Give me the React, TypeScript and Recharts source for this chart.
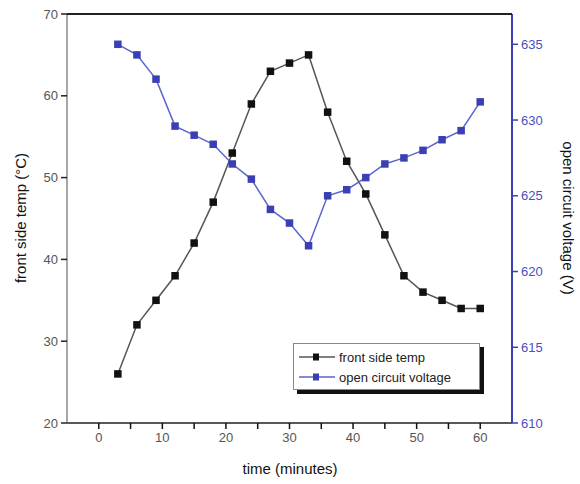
import React from "react";
import { ComposedChart, Line, XAxis, YAxis } from "recharts";

const times = [3, 6, 9, 12, 15, 18, 21, 24, 27, 30, 33, 36, 39, 42, 45, 48, 51, 54, 57, 60];
const frontTemp = [26, 32, 35, 38, 42, 47, 53, 59, 63, 64, 65, 58, 52, 48, 43, 38, 36, 35, 34, 34];
const openVoltage = [635, 634.3, 632.7, 629.6, 629.0, 628.4, 627.1, 626.1, 624.1, 623.2, 621.7, 625.0, 625.4, 626.2, 627.1, 627.5, 628.0, 628.7, 629.3, 631.2];

const xTicks = [0, 5, 10, 15, 20, 25, 30, 35, 40, 45, 50, 55, 60];
const leftTicks = [20, 30, 40, 50, 60, 70];
const rightTicks = [610, 615, 620, 625, 630, 635];
const seriesNames = ["front side temp", "open circuit voltage"];

const data = times.map((t, i) => ({ t, temp: frontTemp[i], volt: openVoltage[i] }));

const BLUE = "#3a40b4";
const BLUE_LINE = "#5a66cc";
const GRAY_TXT = "#555";
const FONT = "Liberation Sans, Arial, sans-serif";

const BottomTickText = (p: any) => {
  const { x, y, payload } = p;
  if (payload.value % 10 !== 0) return <g />;
  return (
    <text x={x} y={y + 10} textAnchor="middle" fontSize={13} fill={GRAY_TXT} fontFamily={FONT}>
      {payload.value}
    </text>
  );
};

const LeftTickText = (p: any) => {
  const { x, y, payload } = p;
  return (
    <text x={x} y={y + 4.5} textAnchor="end" fontSize={13} fill={GRAY_TXT} fontFamily={FONT}>
      {payload.value}
    </text>
  );
};

const RightTickText = (p: any) => {
  const { x, y, payload } = p;
  return (
    <text x={x} y={y + 4.5} textAnchor="start" fontSize={13} fill="#4a50c0" fontFamily={FONT}>
      {payload.value}
    </text>
  );
};

const SquareDot = (color: string, size: number) => (p: any) => {
  const { cx, cy, index } = p;
  if (cx == null || cy == null) return <g key={index} />;
  return <rect key={index} x={cx - size / 2} y={cy - size / 2} width={size} height={size} fill={color} />;
};

const LegendBox = () => (
  <div
    style={{
      position: "absolute",
      left: 293,
      top: 343,
      width: 185,
      height: 45,
      background: "#fff",
      border: "1px solid #888",
      boxShadow: "4px 4px 0 #111",
      fontFamily: FONT,
      fontSize: 13,
      color: "#222",
    }}
  >
    {seriesNames.map((name, i) => (
      <div key={name} style={{ display: "flex", alignItems: "center", height: 20, marginTop: i === 0 ? 3 : 0 }}>
        <svg width={40} height={12} style={{ marginLeft: 3 }}>
          <rect x={2} y={5.25} width={36} height={1.5} fill={i === 0 ? "#555" : BLUE_LINE} />
          <rect x={16} y={2.5} width={6} height={7} fill={i === 0 ? "#111" : BLUE} />
        </svg>
        <span style={{ marginLeft: 2 }}>{name}</span>
      </div>
    ))}
  </div>
);

export default function App() {
  return (
    <div style={{ position: "absolute", left: 0, top: 0, width: 580, height: 484, background: "#fff" }}>
      <ComposedChart width={580} height={484} data={data} margin={{ top: 14, right: 0, bottom: 0, left: 0 }}>
        <XAxis
          xAxisId="bottom"
          dataKey="t"
          type="number"
          domain={[-5, 65]}
          ticks={xTicks}
          height={61}
          interval={0}
          tickLine={{ stroke: "#111", strokeWidth: 1.5 }}
          tickSize={6}
          tickMargin={3}
          axisLine={{ stroke: "#222", strokeWidth: 1.5 }}
          tick={BottomTickText}
          label={{
            content: () => (
              <text x={290} y={474} textAnchor="middle" fontSize={15} fill="#111" fontFamily={FONT}>
                time (minutes)
              </text>
            ),
          }}
        />
        <YAxis
          yAxisId="left"
          orientation="left"
          width={67}
          domain={[20, 70]}
          ticks={leftTicks}
          interval={0}
          tickLine={{ stroke: "#222", strokeWidth: 1.5 }}
          tickSize={6}
          tickMargin={3}
          axisLine={{ stroke: "#777", strokeWidth: 1.3 }}
          tick={LeftTickText}
          label={{
            content: () => (
              <text
                transform="translate(26,218) rotate(-90)"
                textAnchor="middle"
                fontSize={15}
                fill="#111"
                fontFamily={FONT}
              >
                front side temp (°C)
              </text>
            ),
          }}
        />
        <YAxis
          yAxisId="right"
          orientation="right"
          width={68}
          domain={[610, 637]}
          ticks={rightTicks}
          interval={0}
          tickLine={{ stroke: BLUE, strokeWidth: 1.5 }}
          tickSize={6}
          tickMargin={3}
          axisLine={{ stroke: BLUE, strokeWidth: 2 }}
          tick={RightTickText}
          label={{
            content: () => (
              <text
                transform="translate(563,218) rotate(90)"
                textAnchor="middle"
                fontSize={15}
                fill="#111"
                fontFamily={FONT}
              >
                open circuit voltage (V)
              </text>
            ),
          }}
        />
        <Line
          xAxisId="bottom"
          yAxisId="left"
          dataKey="temp"
          name={seriesNames[0]}
          stroke="#555"
          strokeWidth={1.5}
          dot={SquareDot("#111", 7.5)}
          isAnimationActive={false}
        />
        <Line
          xAxisId="bottom"
          yAxisId="right"
          dataKey="volt"
          name={seriesNames[1]}
          stroke={BLUE_LINE}
          strokeWidth={1.5}
          dot={SquareDot(BLUE, 7.5)}
          isAnimationActive={false}
        />
      </ComposedChart>
      <div
        style={{
          position: "absolute",
          left: 67,
          top: 13,
          width: 445,
          height: 0,
          borderTop: "2px solid #222",
        }}
      />
      <LegendBox />
    </div>
  );
}
